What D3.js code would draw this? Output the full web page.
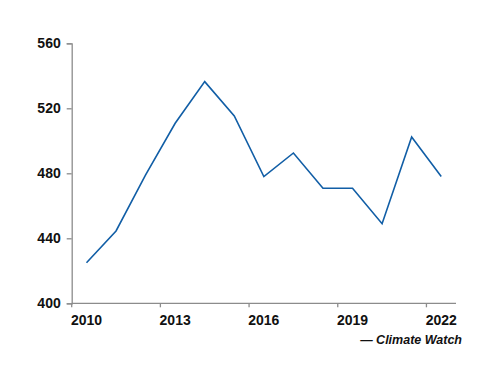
<!DOCTYPE html>
<html><head><meta charset="utf-8">
<script src="https://cdn.jsdelivr.net/npm/d3@7/dist/d3.min.js"></script>
<style>body{margin:0;background:#fff}svg{display:block}</style>
</head><body><svg id="c" width="500" height="386"></svg>
<script>
const years = [2010,2011,2012,2013,2014,2015,2016,2017,2018,2019,2020,2021,2022];
const values = [425,444.5,479,510.8,536.4,515.3,478,492.5,470.8,470.8,449,502.3,478];
const yTicks = [400,440,480,520,560];
const xTickLabels = [2010,2013,2016,2019,2022];
const source = "— Climate Watch";

const svg = d3.select("#c");
const x0 = 71.7, x1 = 456, yTop = 43.3, yBot = 303.3;
const x = d3.scaleBand().domain(years).range([x0, x1]).paddingInner(0).paddingOuter(0);
const y = d3.scaleLinear().domain([400,560]).range([yBot, yTop]);
const font = "'Liberation Sans', Arial, sans-serif";
const axisCol = "#8c8c8c";

// y axis
const ya = svg.append("g").attr("transform", `translate(${x0},0)`)
  .call(d3.axisLeft(y).tickValues(yTicks).tickSize(5).tickPadding(6));
ya.select(".domain").attr("stroke", axisCol).attr("stroke-width", 1.3);
ya.selectAll(".tick line").attr("stroke", axisCol).attr("stroke-width", 1.3);
ya.selectAll(".tick text").attr("font-family", font).attr("font-weight", "bold")
  .attr("font-size", 14).attr("fill", "#111");

// x axis: ticks at band boundaries every 3 categories, labels at band centers
const xg = svg.append("g").attr("transform", `translate(0,${yBot})`);
xg.append("line").attr("x1", x0).attr("x2", x1).attr("y1", 0).attr("y2", 0)
  .attr("stroke", axisCol).attr("stroke-width", 1.3);
xg.selectAll("line.tk").data(xTickLabels).enter().append("line").attr("class","tk")
  .attr("x1", d => x(d)).attr("x2", d => x(d)).attr("y1", 0).attr("y2", 4)
  .attr("stroke", axisCol).attr("stroke-width", 1.3);
xg.selectAll("text").data(xTickLabels).enter().append("text")
  .attr("x", d => x(d) + x.bandwidth()/2).attr("y", 21.5)
  .attr("text-anchor", "middle").attr("font-family", font).attr("font-weight", "bold")
  .attr("font-size", 14).attr("fill", "#111").text(d => d);

// line
const line = d3.line().x((d,i) => x(years[i]) + x.bandwidth()/2).y(d => y(d));
svg.append("path").datum(values).attr("d", line).attr("fill", "none")
  .attr("stroke", "#115ea6").attr("stroke-width", 1.6).attr("stroke-linejoin", "miter");

// source
svg.append("text").attr("x", 462).attr("y", 343.5).attr("text-anchor", "end")
  .attr("font-family", font).attr("font-weight", "bold").attr("font-style", "italic")
  .attr("font-size", 12.5).attr("fill", "#111").text(source);
</script></body></html>
